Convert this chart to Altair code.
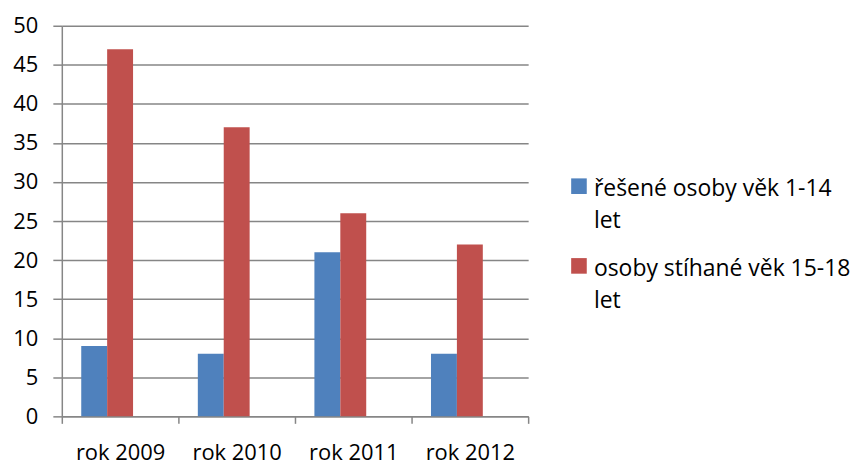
import altair as alt
import pandas as pd

years = ["rok 2009", "rok 2010", "rok 2011", "rok 2012"]
series_names = ["řešené osoby věk 1-14 let", "osoby stíhané věk 15-18 let"]
young = [9, 8, 21, 8]
older = [47, 37, 26, 22]
colors = ["#4F81BD", "#C0504D"]
y_ticks = [0, 5, 10, 15, 20, 25, 30, 35, 40, 45, 50]
legend_labels = ["řešené osoby věk 1-14\nlet", "osoby stíhané věk 15-18\nlet"]

rows = []
for i, yr in enumerate(years):
    rows.append({"year": yr, "series": series_names[0], "value": young[i]})
    rows.append({"year": yr, "series": series_names[1], "value": older[i]})
df = pd.DataFrame(rows)
leg_df = pd.DataFrame({"series": series_names, "label": legend_labels})

FONT = "Open Sans"
GRID = "#868686"
FS = 22

color = alt.Color("series:N", scale=alt.Scale(domain=series_names, range=colors), legend=None)

bars = alt.Chart(df).mark_bar().encode(
    x=alt.X("year:N", sort=years, scale=alt.Scale(paddingInner=0, paddingOuter=0),
            axis=alt.Axis(title=None, labelAngle=0, tickBand="extent", tickSize=7,
                          labelPadding=19, domainColor=GRID, tickColor=GRID,
                          domainWidth=1.5, tickWidth=1.5, grid=False)),
    xOffset=alt.XOffset("series:N", scale=alt.Scale(domain=series_names + ["-"],
                                                    paddingInner=0, paddingOuter=0.75)),
    y=alt.Y("value:Q", scale=alt.Scale(domain=[0, 50], nice=False),
            axis=alt.Axis(title=None, values=y_ticks, tickSize=9, labelPadding=15,
                          domainColor=GRID, tickColor=GRID, gridColor=GRID,
                          domainWidth=1.5, tickWidth=1.5, gridWidth=1.5,
                          minExtent=54, maxExtent=54)),
    color=color,
).properties(width=468, height=392)

base = alt.Chart(leg_df).encode(
    y=alt.Y("series:N", sort=series_names,
            scale=alt.Scale(type="point", range=[161, 241], padding=0), axis=None)
)
sq = base.mark_square(size=245, opacity=1, filled=True).encode(x=alt.value(50), color=color)
txt = base.mark_text(align="left", baseline="middle", dy=3, lineHeight=32,
                     fontSize=23, font=FONT, color="black", lineBreak="\n").encode(
    x=alt.value(65), text="label:N")
legend = alt.layer(sq, txt).properties(width=310, height=392)

chart = alt.hconcat(bars, legend, spacing=0).properties(
    padding={"left": 0, "top": 6, "right": 0, "bottom": 0}
).configure_view(stroke=None).configure_axis(
    labelFont=FONT, labelFontSize=FS, labelColor="black"
)

chart.save("out.html", embed_options={"renderer": "svg", "actions": False})
